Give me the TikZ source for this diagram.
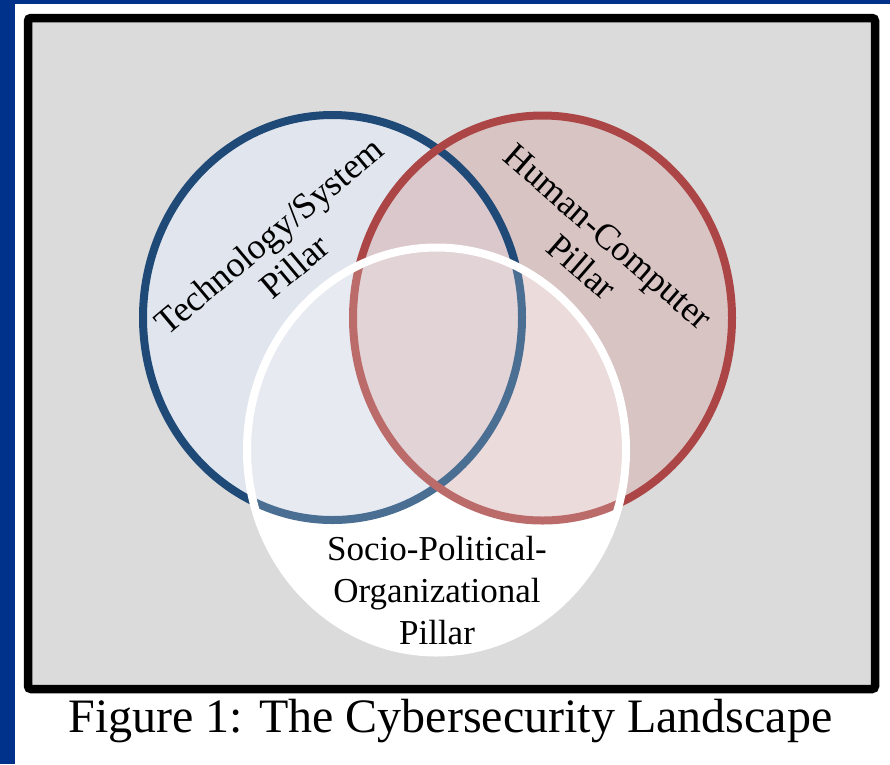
\documentclass[tikz,border=0pt]{standalone}
\usepackage{fontspec}
\setmainfont{Liberation Serif}
\usetikzlibrary{shapes.geometric}
\definecolor{pageblue}{RGB}{0,50,140}
\definecolor{panelgray}{RGB}{219,219,219}
\definecolor{techfill}{RGB}{225,230,238}
\definecolor{techline}{RGB}{31,74,120}
\definecolor{humanfill}{RGB}{216,181,182}
\definecolor{humanline}{RGB}{172,70,70}

\begin{document}
\begin{tikzpicture}[x=1pt, y=-1pt,
    pillar/.style = {ellipse, minimum width=379pt, minimum height=405pt,
                     inner sep=0pt, line width=8pt},
    label/.style = {align=center, font=\fontsize{36}{40}\selectfont}]
\useasboundingbox (0,0) rectangle (890,764);
\fill[pageblue] (0,0) rectangle (890,764);
\fill[white] (15,4) rectangle (890,764);
\draw[line width=8.5pt, rounded corners=3pt, fill=panelgray] (28,18) rectangle (875,689);
% the three pillars
\node[pillar, fill=white] (socioBase) at (436.5,450) {};
\node[pillar, fill=techfill] (tech) at (332.5,317.5) {};
\node[pillar, fill=humanfill, fill opacity=0.6] (human) at (542.5,318) {};
\node[pillar, draw=techline] (techRing) at (tech) {};
\node[pillar, draw=humanline] (humanRing) at (human) {};
\node[pillar, draw=white, fill=white, fill opacity=0.2] (socio) at (socioBase) {};
% labels
\node[label, rotate=40] (techLabel) at (281.5,251) {Technology/System\\Pillar};
\node[label, rotate=-41] (humanLabel) at (595,252) {Human-Computer\\Pillar};
\node[label, font=\fontsize{35}{42}\selectfont] (socioLabel) at (437,591)
    {Socio-Political-\\Organizational\\Pillar};
\node[anchor=base, font=\fontsize{48}{56}\selectfont] (caption) at (450.5,732)
    {Figure 1: The Cybersecurity Landscape};
\end{tikzpicture}
\end{document}
